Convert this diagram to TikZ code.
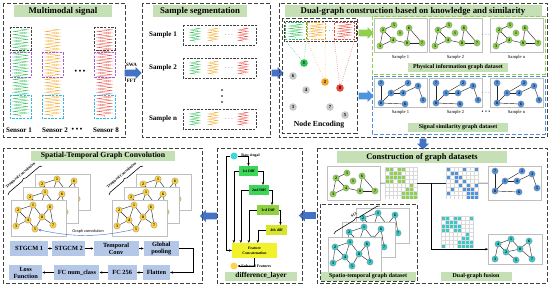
\documentclass[tikz,border=0pt]{standalone}
\usepackage{fontspec}
\setmainfont{Liberation Serif}
\setsansfont{Liberation Sans}
\usepackage{tikz}
\usetikzlibrary{positioning, arrows.meta, shapes.arrows, decorations.pathmorphing, decorations.pathreplacing}

\definecolor{titlegreen}{HTML}{C5E0B4}
\definecolor{nodegreen}{HTML}{8FD14F}
\definecolor{nodeblue}{HTML}{4F93DE}
\definecolor{nodecyan}{HTML}{3CC8C8}
\definecolor{nodeyellow}{HTML}{FFD23F}
\definecolor{nodegray}{HTML}{C8C8C8}
\definecolor{flowblue}{HTML}{B4C7E7}
\definecolor{arrowblue}{HTML}{4472C4}
\definecolor{siggreen}{HTML}{2DBE55}
\definecolor{sigorange}{HTML}{F4A62A}
\definecolor{sigred}{HTML}{E9493F}
\definecolor{boxpurple}{HTML}{A25DDC}
\definecolor{boxcyan}{HTML}{35B5E8}
\definecolor{diffone}{HTML}{3DD65A}
\definecolor{diffthree}{HTML}{8FD13F}
\definecolor{difffour}{HTML}{D7E62A}
\definecolor{concat}{HTML}{F2F22C}
\definecolor{rawcyan}{HTML}{3ED8D8}
\definecolor{enhyellow}{HTML}{FFD24D}

\newcommand{\physnodes}{2/9/12,5/20/7,1/26/15,6/35/10,4/19/22,8/33/25,3/6/28,7/48/25}
\newcommand{\physedges}{2/5,2/3,2/4,3/4,4/8,8/6,6/7,8/7}
\newcommand{\simnodes}{7/7/5,2/34/5,3/44/8,1/17/15,4/29/15,5/49/22,8/7/25,6/31/26}
\newcommand{\simedges}{7/8,8/1,1/2,1/4,4/3,3/5,8/6}
\newcommand{\stnodes}{2/7/10,1/22/5,6/39/7,8/31/17,4/17/20,3/5/26,5/24/29,7/42/25}
\newcommand{\stedges}{2/1,2/3,2/4,3/4,1/4,1/8,4/5,5/8,8/6,6/7,8/7}
\newcommand{\fusnodes}{4/10/10,1/23/5,6/41/7,2/18/18,8/32/15,3/7/25,5/28/26,7/44/25}
\newcommand{\fusedges}{4/1,4/2,4/3,1/2,1/8,8/6,8/7,6/7,2/5,2/8}

\newcommand{\gpattern}{{1,1,0,1,1,0,0,0},{0,1,1,1,0,0,0,0},{1,1,1,1,1,0,0,0},{1,1,0,1,1,0,0,0},{0,0,0,0,0,0,1,0},{0,0,0,0,0,1,1,0},{0,0,0,0,1,1,1,1},{0,0,0,0,1,1,1,1}}
\newcommand{\bpattern}{{1,0,0,0,1,0,0,1},{0,1,1,0,0,0,0,0},{1,0,1,1,0,0,0,0},{0,0,1,0,1,0,0,0},{0,0,0,1,0,1,0,1},{0,1,0,0,1,1,1,0},{1,0,0,0,0,1,1,1},{0,0,0,0,0,1,1,1}}
\newcommand{\cpattern}{{1,1,0,1,1,0,0,1},{0,1,1,1,0,0,0,0},{1,1,1,1,1,0,0,0},{1,1,0,1,1,0,0,0},{0,0,0,0,0,0,1,0},{0,0,0,0,0,1,1,0},{0,0,0,0,1,1,1,1},{1,0,0,0,1,1,1,1}}

\newcommand{\drawgraph}[4]{%
	\foreach \n/\x/\y in #3
		\node[gnode, fill=#2] (#1\n) at (\x,\y) {\n};
	\foreach \a/\b in #4
		\draw[gedge] (#1\a) -- (#1\b);
}
\newcommand{\adjmat}[2]{%
	\foreach \row [count=\r from 0] in #2 {
		\foreach \v [count=\c from 0] in \row {
			\ifnum\v=1\relax \fill[#1] (\c*4,\r*4) rectangle ++(4,4); \fi
		}
	}
	\draw[black!15, line width=0.3pt, step=2mm] (0,0) grid (32,32);
}

\tikzset{
	outerbox/.style={draw=black!75, line width=0.8pt, dash pattern=on 2mm off 1mm},
	segbox/.style={line width=0.7pt, dash pattern=on 1.2mm off 0.6mm},
	titlebox/.style={fill=titlegreen, font=\fontsize{12.5}{14}\selectfont\bfseries, inner sep=0pt, minimum height=6mm},
	labelbox/.style={fill=titlegreen, font=\fontsize{8.5}{10}\selectfont\bfseries, inner sep=0pt, minimum height=4.5mm},
	senslabel/.style={font=\fontsize{10}{12}\selectfont\bfseries},
	smalltext/.style={font=\fontsize{6.5}{7.5}\selectfont},
	tinytext/.style={font=\fontsize{5.5}{6.5}\selectfont\bfseries},
	gnode/.style={circle, draw=black!50, line width=0.3pt, inner sep=0pt, minimum size=3.2mm, font=\fontsize{5.5}{6}\selectfont\bfseries},
	encnode/.style={circle, inner sep=0pt, minimum size=3.8mm, font=\fontsize{6.5}{7}\selectfont\bfseries},
	encbox/.style={segbox, minimum height=8.5mm, inner sep=0pt},
	encline/.style={dotted, line width=0.7pt},
	gedge/.style={line width=0.6pt, draw=black!85},
	panel/.style={draw=black!25, fill=white, line width=0.5pt, anchor=north west, minimum width=26.5mm, minimum height=17mm, inner sep=0pt},
	matbox/.style={rectangle, anchor=north west, minimum size=16mm, inner sep=0pt},
	bigarrow/.style={single arrow, fill=arrowblue, draw=none, minimum height=8.5mm, inner sep=1.6mm, single arrow head extend=1.3mm},
	flowbox/.style={fill=flowblue, font=\fontsize{9}{10}\selectfont\bfseries, align=center, minimum height=7.5mm, inner sep=0pt},
	diffbox/.style={font=\fontsize{5.5}{6.5}\selectfont\bfseries, align=center, minimum width=9.5mm, minimum height=5mm, inner sep=0pt},
	sig/.style={decorate, decoration={zigzag, segment length=1.6mm, amplitude=3.6mm}, line width=0.45pt},
	ssig/.style={decorate, decoration={zigzag, segment length=1.3mm, amplitude=2.4mm}, line width=0.45pt},
	esig/.style={decorate, decoration={zigzag, segment length=1.3mm, amplitude=3.2mm}, line width=0.45pt},
	flow/.style={-{Stealth[length=1.4mm, width=1.2mm]}, line width=0.6pt},
	bracel/.style={decorate, decoration={brace, amplitude=1.3mm}, line width=0.8pt},
	vdot/.style={circle, fill=black, inner sep=0pt, minimum size=0.8mm},
}

\begin{document}
\begin{tikzpicture}[x=0.5mm, y=-0.5mm]
	\useasboundingbox (0,0) rectangle (550,286);

	% multimodal signal
	\draw[outerbox] (3,3) rectangle (125,137);
	\node[titlebox, minimum width=48.5mm] (t-multi) at (63,11) {Multimodal signal};
	\foreach \xc/\col in {20.5/siggreen, 52.5/sigorange, 104.5/sigred}
		\draw[sig, \col] (\xc,29) -- (\xc,117);
	\foreach \xl in {10,94}
		\draw[segbox, black!75] (\xl,27) rectangle ++(21,23);
	\foreach \xl in {10,42,94} {
		\draw[segbox, boxpurple] (\xl,52) rectangle ++(21,25);
		\draw[segbox, boxcyan] (\xl,95) rectangle ++(21,23);
	}
	\node[font=\bfseries] (s-dots) at (80,72) {• • •};
	\foreach \xc/\lab in {19/Sensor 1, 55/Sensor 2, 77/• • •, 106/Sensor 8}
		\node[senslabel] (sl-\xc) at (\xc,130) {\lab};

	\node[bigarrow] (a-swa) at (131.5,73) {};
	\node[tinytext, font=\fontsize{7}{8}\selectfont\bfseries, above=0.3mm of a-swa] (l-swa) {SWA};
	\node[tinytext, font=\fontsize{7}{8}\selectfont\bfseries, below=0.3mm of a-swa] (l-fft) {FFT};

	% sample segmentation
	\draw[outerbox] (142,3) rectangle (270,137);
	\node[titlebox, minimum width=47mm] (t-seg) at (200,11) {Sample segmentation};
	\foreach \yc/\lab in {35/1, 68/2, 119/n} {
		\node[senslabel] (sp-\lab) at (163,\yc) {Sample \lab};
		\foreach \xc/\col in {195/siggreen, 213/sigorange, 243/sigred}
			\draw[ssig, \col] (\xc,\yc-7) -- (\xc,\yc+7);
		\draw[segbox, black!75] (183,\yc-10) rectangle (256,\yc+10);
		\node (sp-dots-\lab) at (229,\yc) {$\cdots$};
	}
	\foreach \yd in {90,96,102}
		\node[vdot] (vd-\yd) at (222,\yd) {};

	\node[bigarrow, minimum height=6mm] (a-seg) at (276,73) {};

	% dual graph construction
	\draw[outerbox] (279,3) rectangle (547,137);
	\node[titlebox, minimum width=128.5mm] (t-dual) at (413,11) {Dual-graph construction based on knowledge and similarity};

	\draw[outerbox] (282,18) rectangle (357,133);
	\draw[segbox, black!75] (284,21) rectangle (356,41);
	\foreach \xc/\col in {295.5/siggreen, 316/sigorange, 344.5/sigred}
		\draw[esig, \col] (\xc,24) -- (\xc,38);
	\node[encbox, draw=siggreen, minimum width=10.5mm] (enc-g) at (295.5,31) {};
	\node[encbox, draw=sigorange, minimum width=9mm] (enc-o) at (316,31) {};
	\node[encbox, draw=sigred, minimum width=10mm] (enc-r) at (344.5,31) {};
	\node (enc-dots) at (329.5,31) {$\cdots$};
	\foreach \n/\x/\y/\col in {1/304/63/siggreen, 6/293/76/nodegray, 2/325/82/sigorange, 8/340/88/sigred, 4/306/90/nodegray, 3/293/107/nodegray, 7/330/107/nodegray, 5/345/115/nodegray}
		\node[encnode, fill=\col] (ne-\n) at (\x,\y) {\n};
	\draw[encline, siggreen] (enc-g.south west) -- (ne-1) -- (enc-g.south east);
	\draw[encline, sigorange] (enc-o.south west) -- (ne-2) -- (enc-o.south east);
	\draw[encline, sigred] (enc-r.south west) -- (ne-8) -- (enc-r.south east);
	\node[font=\fontsize{11}{12}\selectfont\bfseries] (l-enc) at (319,125) {Node Encoding};

	\node[bigarrow, fill=nodegreen, minimum height=7.5mm] (a-phys) at (364.5,33) {};
	\node[bigarrow, fill=nodeblue, minimum height=7.5mm] (a-sim) at (364.5,96) {};

	\draw[outerbox, draw=nodegreen] (372,16) rectangle (545,74);
	\foreach \px/\lab [count=\i] in {374/1, 429/2, 490/n} {
		\node[panel] (pp\i) at (\px,18) {};
		\begin{scope}[shift={(pp\i.north west)}]
			\drawgraph{pg\i-}{nodegreen}{\physnodes}{\physedges}
		\end{scope}
		\node[smalltext] (ppl\i) at (\px+26.5,57) {Sample \lab};
	}
	\node (pp-dots) at (486,35) {$\cdots$};
	\node[labelbox, minimum width=50mm] (l-phys) at (458,67.5) {Physical information graph dataset};

	\draw[outerbox, draw=nodeblue] (372,76) rectangle (545,134);
	\foreach \px/\lab [count=\i] in {374/1, 429/2, 490/n} {
		\node[panel, minimum height=14.5mm] (sp\i) at (\px,78) {};
		\begin{scope}[shift={(sp\i.north west)}]
			\drawgraph{sg\i-}{nodeblue}{\simnodes}{\simedges}
		\end{scope}
		\node[smalltext] (spl\i) at (\px+26.5,112) {Sample \lab};
	}
	\node (sp-dots) at (486,93) {$\cdots$};
	\node[font=\footnotesize] (spl-dots) at (486,112) {• • •};
	\node[labelbox, minimum width=50mm] (l-sim) at (458,127.5) {Signal similarity graph dataset};

	\node[bigarrow, shape border rotate=270, minimum height=5.5mm] (a-down) at (423,142.5) {};

	% construction of graph datasets
	\draw[outerbox] (317,148) rectangle (547,283);
	\node[titlebox, minimum width=85mm, font=\fontsize{12}{14}\selectfont\bfseries] (t-con) at (422,157) {Construction of graph datasets};
	\node[panel] (cg) at (327,166) {};
	\begin{scope}[shift={(cg.north west)}]
		\drawgraph{cgg-}{nodegreen}{\physnodes}{\physedges}
	\end{scope}
	\node[matbox] (gm) at (385,167) {};
	\begin{scope}[shift={(gm.north west)}]
		\adjmat{nodegreen}{\gpattern}
	\end{scope}
	\node[matbox] (bm) at (446,167) {};
	\begin{scope}[shift={(bm.north west)}]
		\adjmat{nodeblue}{\bpattern}
	\end{scope}
	\node[panel] (cb) at (488,166) {};
	\begin{scope}[shift={(cb.north west)}]
		\drawgraph{cbg-}{nodeblue}{\simnodes}{\simedges}
	\end{scope}
	\node[matbox] (cm) at (441,216) {};
	\begin{scope}[shift={(cm.north west)}]
		\adjmat{nodecyan}{\cpattern}
	\end{scope}
	\node[panel, minimum width=27mm, minimum height=15mm] (cf) at (488,234) {};
	\begin{scope}[shift={(cf.north west)}]
		\drawgraph{cfg-}{nodecyan}{\fusnodes}{\fusedges}
	\end{scope}
	\draw[gedge] (cg) -- (gm);
	\draw[gedge] (gm) -- (bm) coordinate[pos=0.5] (jn);
	\draw[gedge] (bm) -- (cb);
	\draw[flow] (jn) |- (cf);

	\draw[outerbox] (320,204) rectangle (417,281);
	\foreach \dx/\dy/\lev in {28/-29/3, 14/-15/2, 0/0/1} {
		\node[panel, minimum height=17.5mm] (cp\lev) at (328+\dx,237+\dy) {};
		\begin{scope}[shift={(cp\lev.north west)}]
			\drawgraph{cs\lev-}{nodecyan}{\stnodes}{\stedges}
		\end{scope}
	}
	\coordinate (sb-a) at (334,234);
	\coordinate (sb-b) at (380,206);
	\draw[bracel] (sb-a) -- (sb-b) node[midway, sloped, above=1.2mm, tinytext] (l-s13) {S13};
	\node[labelbox, minimum width=47.5mm] (l-st) at (368,276) {Spatio-temporal graph dataset};
	\node[labelbox, minimum width=35.5mm] (l-fus) at (476,276) {Dual-graph fusion};

	\node[bigarrow, shape border rotate=180] (a-diff) at (309,215.5) {};

	% difference layer
	\draw[outerbox] (217,148) rectangle (302,283);
	\node[circle, fill=rawcyan, minimum size=3.5mm, inner sep=0pt] (raw) at (234,156) {};
	\node[tinytext, anchor=west] (raw-l) at (239,156) {Raw singal};
	\node[diffbox, fill=diffone] (d1) at (248.5,171) {1st Diff};
	\node[diffbox, fill=diffone, minimum width=10mm] (d2) at (259,190) {2nd Diff};
	\node[diffbox, fill=diffthree, minimum width=11mm] (d3) at (268,210) {3rd Diff};
	\node[diffbox, fill=difffour, minimum width=10.5mm] (d4) at (276.5,230) {4th diff};
	\node[diffbox, fill=concat, minimum width=22.5mm, minimum height=7.5mm] (fc) at (254.5,250.5) {Feature\\Concatenation};
	\node[circle, fill=enhyellow, minimum size=3.5mm, inner sep=0pt] (enh) at (234,266) {};
	\node[tinytext, anchor=west] (enh-l) at (239,266) {Enhaced Features};
	\node[labelbox, minimum width=36mm, font=\fontsize{10.5}{12}\selectfont\bfseries] (t-diff) at (261,276) {difference\_layer};
	\draw[flow] (raw.east) -| (d1.north);
	\draw[flow] (d1.east) -| ([xshift=2mm]d2.north);
	\draw[flow] (d2.east) -| ([xshift=2mm]d3.north);
	\draw[flow] (d3.east) -| ([xshift=2mm]d4.north);
	\draw[flow] (raw.west) -- ++(-2mm,0) |- (fc.west);
	\draw[flow] (d1.west) -| ([xshift=1mm]fc.north west);
	\draw[flow] (d2.west) -| ([xshift=4.5mm]fc.north west);
	\draw[flow] (d3.west) -| ([xshift=8.5mm]fc.north west);
	\draw[flow] (d4.west) -| ([xshift=13mm]fc.north west);
	\draw[flow] (fc.south) |- (enh.east);

	\node[bigarrow, shape border rotate=180] (a-st) at (210,216) {};

	% spatial-temporal graph convolution
	\draw[outerbox] (3,148) rectangle (202,283);
	\node[titlebox, minimum width=71.5mm, minimum height=5mm, font=\fontsize{11}{13}\selectfont\bfseries] (t-stgc) at (103,156) {Spatial-Temporal Graph Convolution};
	\foreach \sx [count=\k] in {0,101} {
		\foreach \dx/\dy/\lev in {24/-26/3, 12/-13/2, 0/0/1} {
			\node[panel, minimum width=27.5mm, minimum height=18mm] (yp\k\lev) at (11+\sx+\dx,200+\dy) {};
			\begin{scope}[shift={(yp\k\lev.north west)}]
				\drawgraph{y\k\lev-}{nodeyellow}{\stnodes}{\stedges}
			\end{scope}
		}
		\coordinate (tb\k-a) at (8+\sx,195);
		\coordinate (tb\k-b) at (42+\sx,166);
		\draw[bracel] (tb\k-a) -- (tb\k-b) node[midway, sloped, above=1.2mm, tinytext] (tc\k) {Temporal Convolution};
	}
	\draw[flow, draw=arrowblue] (y21-5) to[bend left=12] (y11-5);
	\node[font=\sffamily\fontsize{5.5}{6}\selectfont] (l-gc) at (88,231) {Graph convolution};

	\node[flowbox, minimum width=19mm] (stgcm1) at (29,248.5) {STGCM 1};
	\node[flowbox, minimum width=16.5mm, right=2mm of stgcm1] (stgcm2) {STGCM 2};
	\node[flowbox, minimum width=22.5mm, right=4mm of stgcm2] (tconv) {Temporal\\Conv};
	\node[flowbox, minimum width=17.5mm, right=2.5mm of tconv] (gpool) {Global\\pooling};
	\node[flowbox, minimum width=13.5mm] (flat) at (156.5,272.5) {Flatten};
	\node[flowbox, minimum width=14.5mm, left=3mm of flat] (fc256) {FC 256};
	\node[flowbox, minimum width=22.5mm, left=4mm of fc256] (fcnum) {FC num\_class};
	\node[flowbox, minimum width=16.5mm, left=6mm of fcnum] (loss) {Loss\\Function};
	\draw[flow] (stgcm1) -- (stgcm2);
	\draw[flow] (stgcm2) -- (tconv);
	\draw[flow] (tconv) -- (gpool);
	\draw[flow] (gpool.east) -- ++(7mm,0) |- (flat.east);
	\draw[flow] (flat) -- (fc256);
	\draw[flow] (fc256) -- (fcnum);
	\draw[flow] (fcnum) -- (loss);
\end{tikzpicture}
\end{document}
